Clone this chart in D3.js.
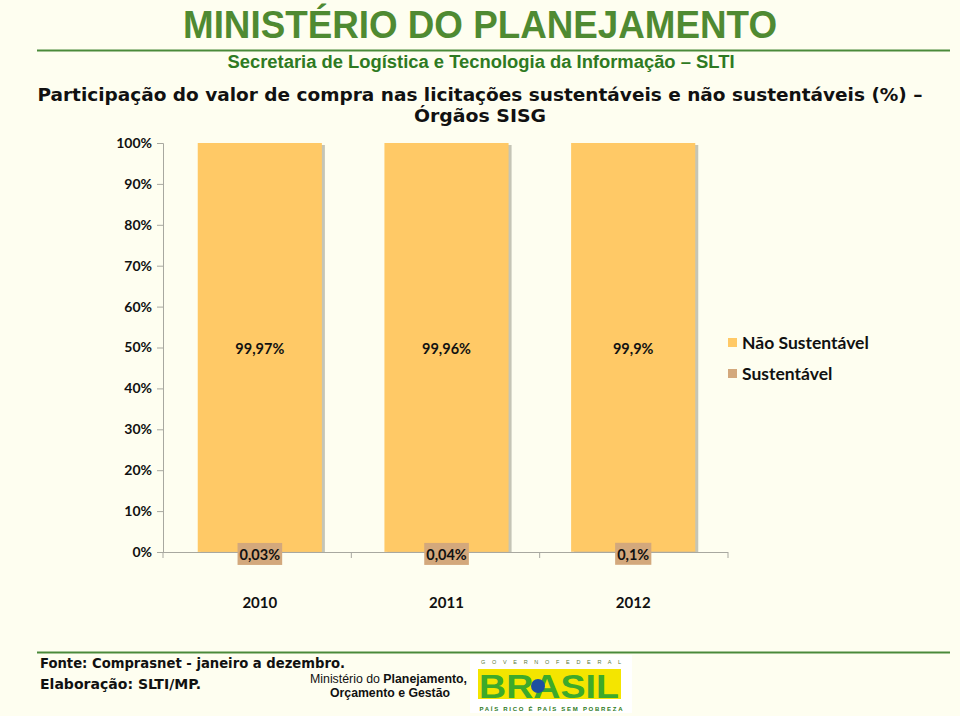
<!DOCTYPE html>
<html><head><meta charset="utf-8">
<script src="https://cdn.jsdelivr.net/npm/d3@7"></script>
<style>
html,body{margin:0;padding:0;background:#FEFEF0;}
svg{display:block;}
</style></head>
<body>
<script>
const categories = ["2010", "2011", "2012"];
const sustentavel = [0.03, 0.04, 0.1];
const naoSustentavel = [99.97, 99.96, 99.9];
const sustLabels = ["0,03%", "0,04%", "0,1%"];
const naoLabels = ["99,97%", "99,96%", "99,9%"];
const yTicks = [0, 10, 20, 30, 40, 50, 60, 70, 80, 90, 100];
const seriesNames = ["Não Sustentável", "Sustentável"];

const W = 960, H = 716;
const svg = d3.select("body").append("svg").attr("width", W).attr("height", H);
svg.append("rect").attr("width", W).attr("height", H).attr("fill", "#FEFEF0");

const cNao = "#FFC966", cSus = "#D3A87C";

// Header
svg.append("text").attr("x", 480).attr("y", 38).attr("text-anchor", "middle")
  .attr("font-family", "'Liberation Sans Narrow','Liberation Sans',Arial").attr("font-weight", "bold")
  .attr("font-size", 39).attr("fill", "#4F8A32").attr("textLength", 594).attr("lengthAdjust", "spacingAndGlyphs")
  .text("MINISTÉRIO DO PLANEJAMENTO");
svg.append("line").attr("x1", 37).attr("x2", 950).attr("y1", 50.5).attr("y2", 50.5)
  .attr("stroke", "#4A8A3A").attr("stroke-width", 2);
svg.append("text").attr("x", 481).attr("y", 68).attr("text-anchor", "middle")
  .attr("font-family", "'Liberation Sans Narrow','Liberation Sans',Arial").attr("font-weight", "bold")
  .attr("font-size", 18).attr("fill", "#2E7A22").attr("textLength", 507).attr("lengthAdjust", "spacingAndGlyphs")
  .text("Secretaria de Logística e Tecnologia da Informação – SLTI");
svg.append("text").attr("x", 480).attr("y", 101).attr("text-anchor", "middle")
  .attr("font-family", "'DejaVu Sans Condensed','DejaVu Sans',Verdana").attr("font-weight", "bold")
  .attr("font-size", 18).attr("fill", "#111").attr("textLength", 885).attr("lengthAdjust", "spacingAndGlyphs")
  .text("Participação do valor de compra nas licitações sustentáveis e não sustentáveis (%) –");
svg.append("text").attr("x", 480).attr("y", 122).attr("text-anchor", "middle")
  .attr("font-family", "'DejaVu Sans Condensed','DejaVu Sans',Verdana").attr("font-weight", "bold")
  .attr("font-size", 18).attr("fill", "#111").attr("textLength", 132).attr("lengthAdjust", "spacingAndGlyphs")
  .text("Órgãos SISG");

// Chart geometry
const x0 = 163, x1 = 728, yTop = 143, yBot = 552;
const x = d3.scaleBand().domain(categories).range([x0 + 3, x1 - 1]).paddingInner(0.335).paddingOuter(0.17);
const y = d3.scaleLinear().domain([0, 100]).range([yBot, yTop]);

// Y axis (drawn first so labels sit on top)
const yAxis = d3.axisLeft(y).tickValues(yTicks).tickFormat(d => d + "%").tickSize(6).tickPadding(5);
const ya = svg.append("g").attr("transform", `translate(${x0},0)`).call(yAxis);
ya.select(".domain").attr("stroke", "#A8A8A0");
ya.selectAll(".tick line").attr("stroke", "#A8A8A0");
ya.selectAll(".tick text").attr("font-family", "Lato,'Open Sans',sans-serif").attr("font-weight", "bold")
  .attr("font-size", 14).attr("fill", "#111").attr("x", -11);

// X axis line with ticks at band boundaries
const xAxisG = svg.append("g");
xAxisG.append("line").attr("x1", x0).attr("x2", x1).attr("y1", yBot + 0.5).attr("y2", yBot + 0.5).attr("stroke", "#A8A8A0");
const step = (x1 - x0) / categories.length;
xAxisG.selectAll("line.tk").data(d3.range(categories.length + 1)).join("line").attr("class", "tk")
  .attr("x1", i => x0 + i * step).attr("x2", i => x0 + i * step)
  .attr("y1", yBot).attr("y2", yBot + 6).attr("stroke", "#A8A8A0");
xAxisG.selectAll("text.cat").data(categories).join("text").attr("class", "cat")
  .attr("x", d => x(d) + x.bandwidth() / 2).attr("y", 608).attr("text-anchor", "middle")
  .attr("font-family", "Lato,'Open Sans',sans-serif").attr("font-weight", "bold")
  .attr("font-size", 15).attr("fill", "#111").text(d => d);

const data = categories.map((c, i) => ({c, s: sustentavel[i], n: naoSustentavel[i], sl: sustLabels[i], nl: naoLabels[i]}));
const g = svg.append("g");

// shadows
g.selectAll("rect.sh").data(data).join("rect").attr("class", "sh")
  .attr("x", d => x(d.c) + 3).attr("y", d => y(d.s + d.n) + 2)
  .attr("width", x.bandwidth()).attr("height", d => y(0) - y(d.s + d.n) - 2)
  .attr("fill", "#9E9E90").attr("opacity", 0.6);
// sustentavel
g.selectAll("rect.sus").data(data).join("rect").attr("class", "sus")
  .attr("x", d => x(d.c)).attr("y", d => y(d.s)).attr("width", x.bandwidth())
  .attr("height", d => Math.max(0, y(0) - y(d.s))).attr("fill", cSus);
// nao sustentavel
g.selectAll("rect.nao").data(data).join("rect").attr("class", "nao")
  .attr("x", d => x(d.c)).attr("y", d => y(d.s + d.n)).attr("width", x.bandwidth())
  .attr("height", d => y(d.s) - y(d.s + d.n)).attr("fill", cNao);

// Top labels
g.selectAll("text.nl").data(data).join("text").attr("class", "nl")
  .attr("x", d => x(d.c) + x.bandwidth() / 2).attr("y", d => (y(d.s) + y(d.s + d.n)) / 2 + 7)
  .attr("text-anchor", "middle").attr("font-family", "Lato,'Open Sans',sans-serif").attr("font-weight", "bold")
  .attr("font-size", 14.5).attr("fill", "#111").text(d => d.nl);

// Bottom labels with boxes
const sl = g.selectAll("g.sl").data(data).join("g").attr("class", "sl")
  .attr("transform", d => `translate(${x(d.c) + x.bandwidth() / 2},${y(d.s / 2) + 2})`);
sl.append("text").attr("text-anchor", "middle").attr("y", 6)
  .attr("font-family", "Lato,'Open Sans',sans-serif").attr("font-weight", "bold")
  .attr("font-size", 14.5).attr("fill", "#111").text(d => d.sl)
  .each(function() {
    const bb = this.getBBox();
    d3.select(this.parentNode).insert("rect", "text")
      .attr("x", bb.x - 2).attr("y", -11).attr("width", bb.width + 4).attr("height", 22).attr("fill", cSus);
  });

// Legend
const leg = svg.append("g").attr("transform", "translate(728,343)");
const li = leg.selectAll("g").data(seriesNames).join("g").attr("transform", (d, i) => `translate(0,${i * 31})`);
li.append("rect").attr("x", 0).attr("y", -5).attr("width", 9).attr("height", 9).attr("fill", (d, i) => i === 0 ? cNao : cSus);
li.append("text").attr("x", 14).attr("y", 6).attr("font-family", "Lato,'Open Sans',sans-serif").attr("font-weight", "bold")
  .attr("font-size", 17.5).attr("fill", "#111").text(d => d);

// Footer
svg.append("line").attr("x1", 37).attr("x2", 950).attr("y1", 652.5).attr("y2", 652.5).attr("stroke", "#4A8A3A").attr("stroke-width", 2);
svg.append("text").attr("x", 40).attr("y", 668).attr("font-family", "'DejaVu Sans Condensed','DejaVu Sans',Verdana")
  .attr("font-weight", "bold").attr("font-size", 14).attr("fill", "#111")
  .attr("textLength", 305).attr("lengthAdjust", "spacingAndGlyphs").text("Fonte: Comprasnet - janeiro a dezembro.");
svg.append("text").attr("x", 40).attr("y", 689).attr("font-family", "'DejaVu Sans Condensed','DejaVu Sans',Verdana")
  .attr("font-weight", "bold").attr("font-size", 14).attr("fill", "#111")
  .attr("textLength", 161).attr("lengthAdjust", "spacingAndGlyphs").text("Elaboração: SLTI/MP.");
const mt = svg.append("text").attr("x", 467).attr("y", 683).attr("text-anchor", "end")
  .attr("font-family", "'Liberation Sans Narrow','Liberation Sans',Arial").attr("font-size", 12).attr("fill", "#111")
  .attr("textLength", 157).attr("lengthAdjust", "spacingAndGlyphs");
mt.append("tspan").text("Ministério do ");
mt.append("tspan").attr("font-weight", "bold").text("Planejamento,");
svg.append("text").attr("x", 390).attr("y", 697).attr("text-anchor", "middle")
  .attr("font-family", "'Liberation Sans Narrow','Liberation Sans',Arial").attr("font-weight", "bold")
  .attr("font-size", 12).attr("fill", "#111").attr("textLength", 120).attr("lengthAdjust", "spacingAndGlyphs")
  .text("Orçamento e Gestão");

// Logo
const logo = svg.append("g");
logo.append("rect").attr("x", 470).attr("y", 655).attr("width", 162).attr("height", 58).attr("fill", "#FFFFFF");
logo.append("text").attr("x", 551).attr("y", 664).attr("text-anchor", "middle").attr("font-family", "'Liberation Sans',Arial")
  .attr("font-size", 5.5).attr("fill", "#5a7a3a").attr("textLength", 140).attr("lengthAdjust", "spacing")
  .text("G O V E R N O   F E D E R A L");
logo.append("rect").attr("x", 478).attr("y", 669).attr("width", 143).attr("height", 30).attr("fill", "#F4E500");
logo.append("text").attr("x", 549).attr("y", 698).attr("text-anchor", "middle").attr("font-family", "'Liberation Sans',Arial")
  .attr("font-weight", "bold").attr("font-size", 33).attr("fill", "#3DAA2A").attr("textLength", 140).attr("lengthAdjust", "spacingAndGlyphs")
  .text("BRASIL");
logo.append("circle").attr("cx", 538).attr("cy", 686).attr("r", 7).attr("fill", "#1E4FA0");
logo.append("text").attr("x", 551).attr("y", 711).attr("text-anchor", "middle").attr("font-family", "'Liberation Sans',Arial")
  .attr("font-weight", "bold").attr("font-size", 6).attr("fill", "#2E7A22").attr("textLength", 143).attr("lengthAdjust", "spacing")
  .text("PAÍS RICO É PAÍS SEM POBREZA");
</script>
</body></html>
